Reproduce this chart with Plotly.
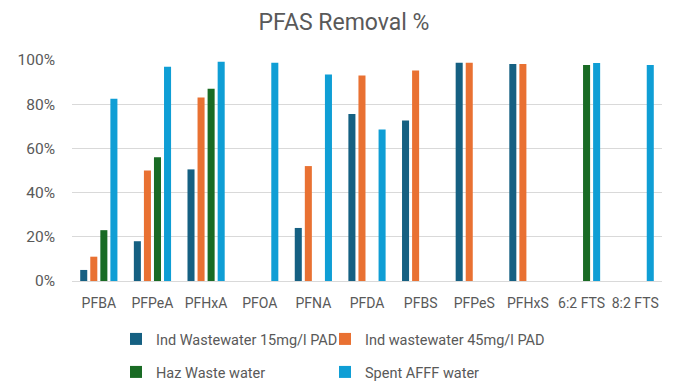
import plotly.graph_objects as go

categories = ["PFBA", "PFPeA", "PFHxA", "PFOA", "PFNA", "PFDA", "PFBS", "PFPeS", "PFHxS", "6:2 FTS", "8:2 FTS"]
ind15 = [0.05, 0.18, 0.505, None, 0.24, 0.756, 0.726, 0.988, 0.982, None, None]
ind45 = [0.11, 0.50, 0.83, None, 0.52, 0.93, 0.953, 0.988, 0.982, None, None]
haz = [0.23, 0.56, 0.87, None, None, None, None, None, None, 0.977, None]
afff = [0.825, 0.97, 0.992, 0.988, 0.934, 0.686, None, None, None, 0.986, 0.977]
series_names = ["Ind Wastewater 15mg/l PAD", "Ind wastewater 45mg/l PAD", "Haz Waste water", "Spent AFFF water"]
colors = ["#156082", "#E97132", "#196B24", "#0F9ED5"]
legends = ["legend2", "legend3", "legend4", "legend5"]

fig = go.Figure()
for name, vals, col, lg in zip(series_names, [ind15, ind45, haz, afff], colors, legends):
    fig.add_trace(go.Bar(x=categories, y=vals, name=name, marker_color=col,
                         marker_line_width=0, legend=lg))

font_fam = "Roboto, Liberation Sans, sans-serif"
gray = "#595959"
legend_common = dict(orientation="h", xanchor="left", yanchor="middle",
                     xref="container", yref="container",
                     font=dict(size=14.5, color=gray, family=font_fam),
                     itemwidth=30, bgcolor="rgba(0,0,0,0)")
col1_x, col2_x = 116 / 696, 325 / 696
row1_y, row2_y = 1 - 339 / 385, 1 - 372 / 385
fig.update_layout(
    width=696, height=385,
    margin=dict(l=72, r=34, t=60, b=104, autoexpand=False),
    paper_bgcolor="white", plot_bgcolor="white",
    title=dict(text="PFAS Removal %", x=344 / 696, xref="container", xanchor="center",
               y=0.943, yref="container", yanchor="middle",
               font=dict(size=23, color=gray, family=font_fam)),
    barmode="group", bargap=0.25, bargroupgap=0.3,
    font=dict(family=font_fam, color=gray),
    legend2=dict(x=col1_x, y=row1_y, **legend_common),
    legend3=dict(x=col2_x, y=row1_y, **legend_common),
    legend4=dict(x=col1_x, y=row2_y, **legend_common),
    legend5=dict(x=col2_x, y=row2_y, **legend_common),
    xaxis=dict(tickfont=dict(size=14, color=gray), showline=False, ticks="",
               ticklabelstandoff=12),
    yaxis=dict(range=[0, 1], tickformat=".0%", dtick=0.2,
               tickfont=dict(size=15.5, color=gray),
               gridcolor="#D9D9D9", gridwidth=1, zeroline=True,
               zerolinecolor="#D9D9D9", zerolinewidth=1, ticks="", ticklen=0,
               ticklabelstandoff=16),
)
fig.write_html("out.html", config={"displayModeBar": False},
               post_script="document.body.style.margin='0';document.body.style.overflow='hidden';")
